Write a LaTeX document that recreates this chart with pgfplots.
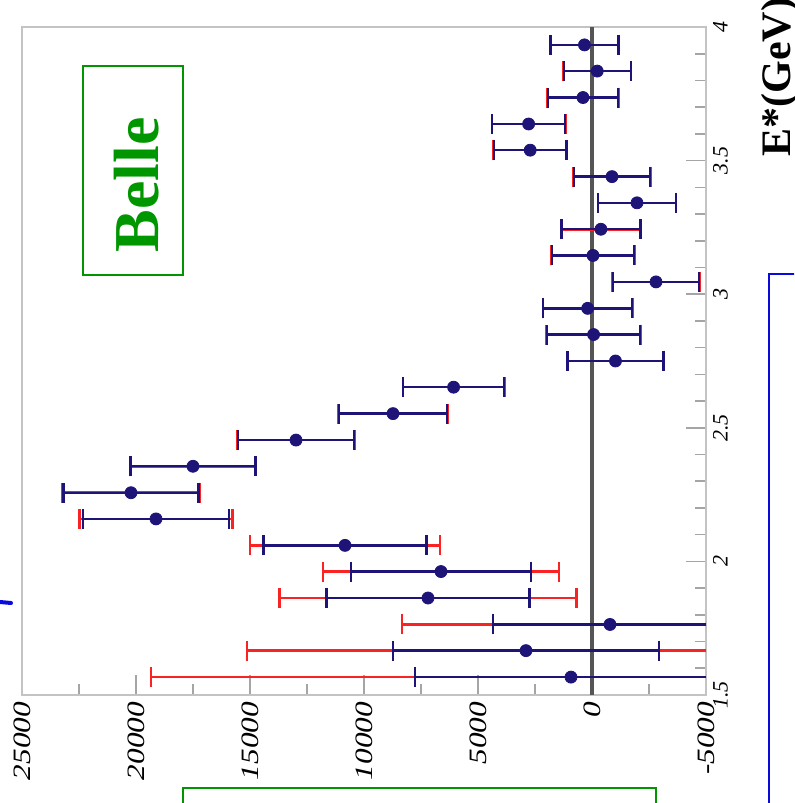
\documentclass[border=0pt]{standalone}
\usepackage{fontspec}
\setmainfont{Liberation Serif}
\usepackage{graphicx}
\usepackage{pgfplots}
\pgfplotsset{compat=1.18}
\definecolor{navy}{RGB}{30,20,120}
\definecolor{bred}{RGB}{250,35,35}
\definecolor{bgreen}{RGB}{0,150,0}
\definecolor{bblue}{RGB}{10,10,220}
\definecolor{framegray}{RGB}{195,195,195}
\definecolor{tickgray}{RGB}{165,165,165}
\definecolor{zerogray}{RGB}{85,85,85}

\pgfplotstableread{
E v eb er
3.933 330 1490 1510
3.835 -230 1470 1480
3.736 395 1530 1550
3.637 2780 1600 1610
3.539 2710 1600 1615
3.440 -877 1667 1680
3.342 -1974 1710 1715
3.243 -390 1732 1740
3.145 -44 1800 1815
3.046 -2807 1886 1895
2.947 190 1950 1955
2.849 -70 2040 2055
2.750 -1030 2105 2110
2.652 6070 2215 2220
2.553 8728 2368 2380
2.454 12982 2544 2555
2.356 17500 2741 2755
2.257 20219 2961 3030
2.159 19123 3202 3355
2.060 10833 3575 4167
1.962 6623 3947 5175
1.863 7193 4452 6513
1.764 -789 5132 9123
1.666 2895 5833 12237
1.567 921 6842 18421
}\data

\begin{document}
\begin{tikzpicture}[x=1pt,y=1pt]
\path[use as bounding box] (0,0) rectangle (397,401.5);
\clip (0,0) rectangle (397,401.5);
\begin{axis}[
 at={(11pt,54pt)}, anchor=south west, scale only axis, width=342pt, height=334pt,
 xmin=-5000, xmax=25000, x dir=reverse, ymin=1.5, ymax=4,
 scaled x ticks=false, scaled y ticks=false,
 axis line style={framegray, line width=1pt},
 xtick={-5000,0,...,25000}, minor x tick num=1,
 ytick={1.5,2,...,4}, minor y tick num=4,
 xtick pos=bottom, ytick pos=right, yticklabel pos=right,
 tick align=inside,
 major tick length=10pt, minor tick length=5.5pt,
 every tick/.style={color=tickgray, line width=0.8pt},
 xticklabel style={rotate=90, anchor=east, font=\fontsize{12.5}{12.5}\selectfont\itshape},
 xticklabel={\scalebox{1.25}[1]{\pgfmathprintnumber[assume math mode=true,1000 sep={},fixed]{\tick}}},
 yticklabel style={rotate=90, anchor=north, font=\fontsize{11}{11}\selectfont\itshape},
 yticklabel={\pgfmathprintnumber[assume math mode=true]{\tick}},
]
\addplot[zerogray, line width=1.7pt, forget plot] coordinates {(0,1.5) (0,4)};
\addplot[draw=none, forget plot,
  error bars/.cd, x dir=both, x explicit, error mark=|,
  error bar style={draw=bred, line width=1.3pt},
  error mark options={draw=bred, mark size=5pt, line width=1.3pt}]
  table[x=v, y=E, x error=er] {\data};
\addplot[draw=none, forget plot,
  error bars/.cd, x dir=both, x explicit, error mark=|,
  error bar style={draw=navy, line width=1.2pt},
  error mark options={draw=navy, mark size=5pt, line width=1.2pt}]
  table[x=v, y=E, x error=eb] {\data};
\addplot[only marks, mark=*, mark size=3pt, navy, forget plot] table[x=v, y=E] {\data};
\end{axis}
\draw[bgreen, line width=1pt] (41.5,264) rectangle (91.5,368.5);
\node[rotate=90, anchor=base west, inner sep=0, text=bgreen, font=\fontsize{32}{32}\selectfont\bfseries] at (79,275) {Belle};
\draw[bgreen, line width=1pt] (91.5,-5) rectangle (328,7.5);
\draw[bblue, line width=1pt] (384.5,-5) rectangle (420,264.5);
\draw[bblue, line width=2pt, line cap=round] (0,100.5) -- (5.5,100);
\node[rotate=90, anchor=base west, inner sep=0, font=\fontsize{21}{21}\selectfont\bfseries] at (395,323) {E*(GeV)};
\end{tikzpicture}
\end{document}
